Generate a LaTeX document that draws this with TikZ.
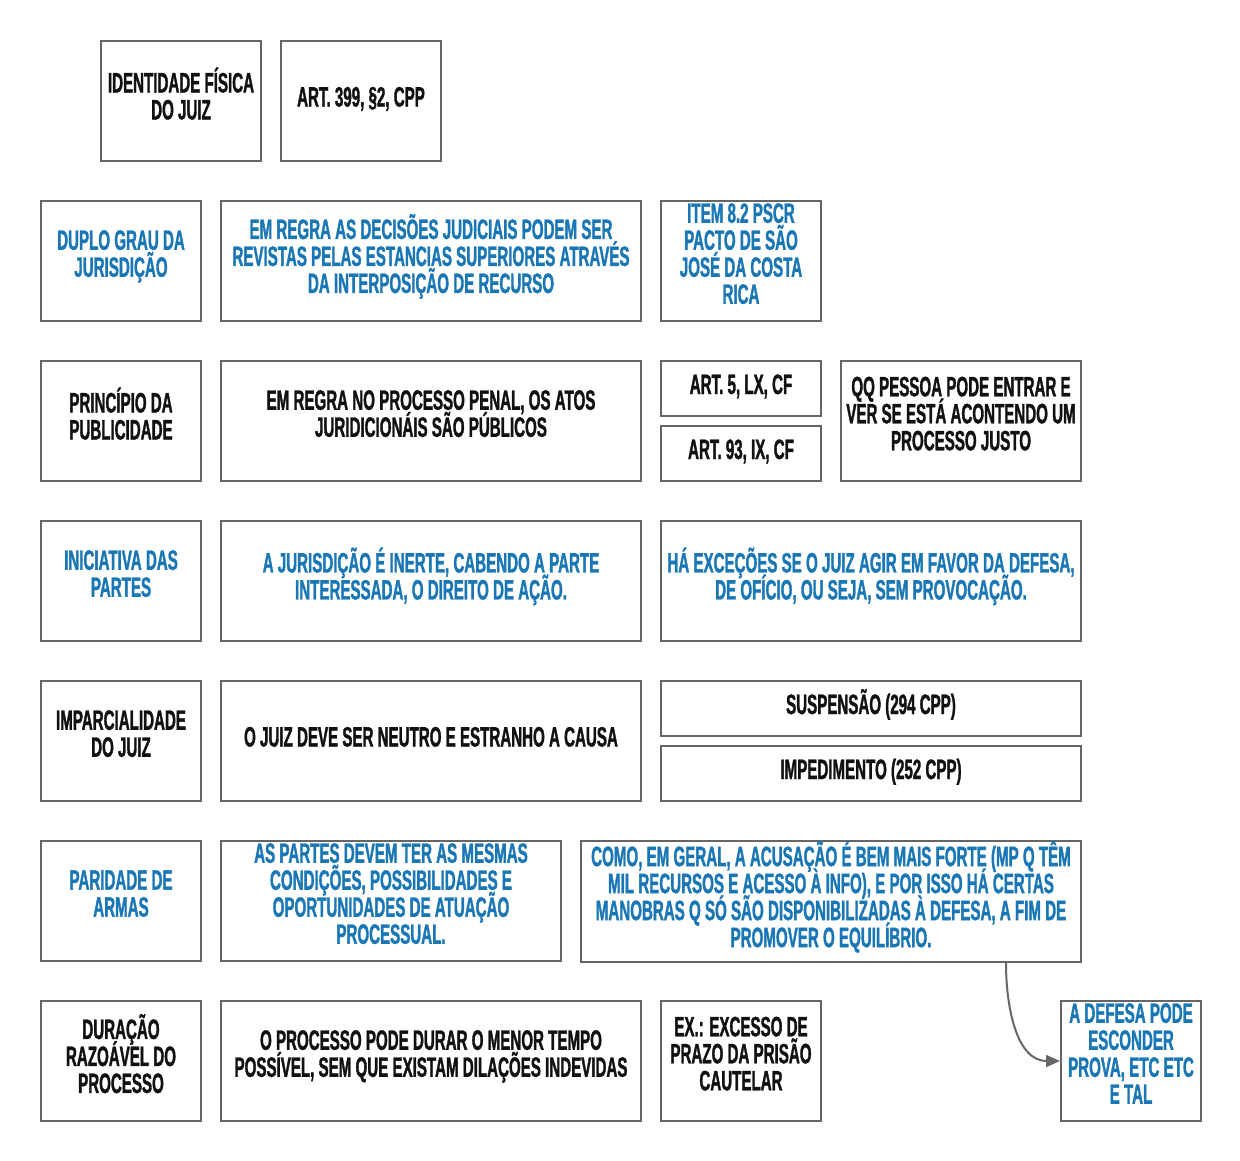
\documentclass[tikz,border=0pt]{standalone}
\usepackage{fontspec}
\setmainfont[FakeStretch=0.54,BoldFeatures={FakeStretch=0.54,FakeBold=1.2}]{Liberation Sans}
\usetikzlibrary{arrows.meta,positioning,calc}
\definecolor{frm}{HTML}{666666}
\definecolor{acc}{HTML}{1A77B5}
\definecolor{ink}{HTML}{111111}
\newcommand{\boxfont}{\fontsize{28}{27}\selectfont\bfseries\lineskiplimit=-100pt\relax\lineskip=0pt\relax}
\tikzset{
  box/.style={draw=frm,line width=2pt,fill=white,align=center,inner sep=0pt,anchor=north west,
    text=ink,font=\boxfont,minimum height=120pt,
    execute at begin node={\rule{0pt}{26pt}},execute at end node={\rule[-15pt]{0pt}{0pt}}},
  bbox/.style={box,text=acc},
  ar/.style={-{Triangle[length=14pt,width=12pt]},line width=2pt,draw=frm},
}
\begin{document}
\begin{tikzpicture}[x=1pt,y=-1pt]
\useasboundingbox[fill=white] (0,0) rectangle (1240,1160);
% identidade fisica
\node[box,minimum width=160pt] (idj) at (100,40) {IDENTIDADE FÍSICA\\DO JUIZ};
\node[box,minimum width=160pt] (idjart) at (280,40) {ART. 399, §2, CPP};
% duplo grau
\node[bbox,minimum width=160pt] (dgj) at (40,200) {DUPLO GRAU DA\\JURISDIÇÃO};
\node[bbox,minimum width=420pt] (dgjtxt) at (220,200) {EM REGRA AS DECISÕES JUDICIAIS PODEM SER\\REVISTAS PELAS ESTANCIAS SUPERIORES ATRAVÉS\\DA INTERPOSIÇÃO DE RECURSO};
\node[bbox,minimum width=160pt] (dgjart) at (660,200) {ITEM 8.2 PSCR\\PACTO DE SÃO\\JOSÉ DA COSTA\\RICA};
% publicidade
\node[box,minimum width=160pt] (pub) at (40,360) {PRINCÍPIO DA\\PUBLICIDADE};
\node[box,minimum width=420pt] (pubtxt) at (220,360) {EM REGRA NO PROCESSO PENAL, OS ATOS\\JURIDICIONÁIS SÃO PÚBLICOS};
\node[box,minimum width=160pt,minimum height=55pt] (pubart1) at (660,360) {ART. 5, LX, CF};
\node[box,minimum width=160pt,minimum height=55pt] (pubart2) at (660,425) {ART. 93, IX, CF};
\node[box,minimum width=240pt] (pubobs) at (840,360) {QQ PESSOA PODE ENTRAR E\\VER SE ESTÁ ACONTENDO UM\\PROCESSO JUSTO};
% iniciativa
\node[bbox,minimum width=160pt] (ini) at (40,520) {INICIATIVA DAS\\PARTES};
\node[bbox,minimum width=420pt] (initxt) at (220,520) {A JURISDIÇÃO É INERTE, CABENDO A PARTE\\INTERESSADA, O DIREITO DE AÇÃO.};
\node[bbox,minimum width=420pt] (iniobs) at (660,520) {HÁ EXCEÇÕES SE O JUIZ AGIR EM FAVOR DA DEFESA,\\DE OFÍCIO, OU SEJA, SEM PROVOCAÇÃO.};
% imparcialidade
\node[box,minimum width=160pt] (imp) at (40,680) {IMPARCIALIDADE\\DO JUIZ};
\node[box,minimum width=420pt] (imptxt) at (220,680) {O JUIZ DEVE SER NEUTRO E ESTRANHO A CAUSA};
\node[box,minimum width=420pt,minimum height=55pt] (impsus) at (660,680) {SUSPENSÃO (294 CPP)};
\node[box,minimum width=420pt,minimum height=55pt] (impimp) at (660,745) {IMPEDIMENTO (252 CPP)};
% paridade
\node[bbox,minimum width=160pt] (par) at (40,840) {PARIDADE DE\\ARMAS};
\node[bbox,minimum width=340pt] (partxt) at (220,840) {AS PARTES DEVEM TER AS MESMAS\\CONDIÇÕES, POSSIBILIDADES E\\OPORTUNIDADES DE ATUAÇÃO\\PROCESSUAL.};
\node[bbox,minimum width=500pt] (parobs) at (580,840) {COMO, EM GERAL, A ACUSAÇÃO É BEM MAIS FORTE (MP Q TÊM\\MIL RECURSOS E ACESSO À INFO), E POR ISSO HÁ CERTAS\\MANOBRAS Q SÓ SÃO DISPONIBILIZADAS À DEFESA, A FIM DE\\PROMOVER O EQUILÍBRIO.};
% duracao
\node[box,minimum width=160pt] (dur) at (40,1000) {DURAÇÃO\\RAZOÁVEL DO\\PROCESSO};
\node[box,minimum width=420pt] (durtxt) at (220,1000) {O PROCESSO PODE DURAR O MENOR TEMPO\\POSSÍVEL, SEM QUE EXISTAM DILAÇÕES INDEVIDAS};
\node[box,minimum width=160pt] (durex) at (660,1000) {EX.: EXCESSO DE\\PRAZO DA PRISÃO\\CAUTELAR};
\node[bbox,minimum width=140pt] (def) at (1060,1000) {A DEFESA PODE\\ESCONDER\\PROVA, ETC ETC\\E TAL};
\coordinate (parout) at ($(parobs.south east)+(-76,0)$);
\draw[ar] (parout) to[out=-90,in=180] (def.west);
\end{tikzpicture}
\end{document}
